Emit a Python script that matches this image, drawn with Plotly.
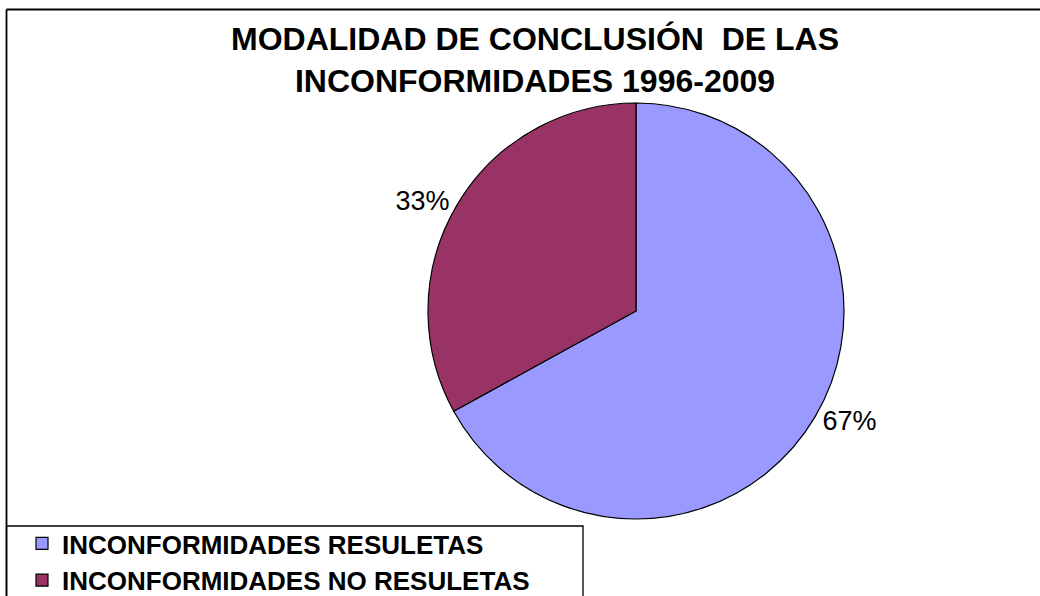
import plotly.graph_objects as go

# Data
labels = ["INCONFORMIDADES RESULETAS", "INCONFORMIDADES NO RESULETAS"]
values = [67, 33]
colors = ["#9999FF", "#993366"]
title_lines = ["MODALIDAD DE CONCLUSIÓN  DE LAS", "INCONFORMIDADES 1996-2009"]

W, H = 1040, 596
FONT = "Arial, Liberation Sans, sans-serif"

def px_x(p):
    return p / W

def px_y(p):
    return 1 - p / H

cx, cy, d = 636, 311, 416

fig = go.Figure(
    go.Pie(
        labels=labels,
        values=values,
        marker=dict(colors=colors, line=dict(color="black", width=1.2)),
        sort=False,
        direction="clockwise",
        rotation=0,
        textinfo="percent",
        textposition="outside",
        outsidetextfont=dict(family=FONT, size=27, color="black"),
        domain=dict(x=[px_x(cx - 330), px_x(cx + 330)], y=[px_y(cy + d / 2), px_y(cy - d / 2)]),
        hoverinfo="label+percent",
    )
)

fig.update_layout(
    width=W,
    height=H,
    margin=dict(l=0, r=0, t=0, b=0, autoexpand=False),
    paper_bgcolor="white",
    plot_bgcolor="white",
    annotations=[
        dict(
            text="<br>".join(title_lines),
            font=dict(family=FONT, size=32, color="black", weight="bold"),
            x=px_x(535),
            xanchor="center",
            xref="paper",
            y=px_y(60),
            yref="paper",
            yanchor="middle",
            showarrow=False,
            align="center",
        )
    ],
    legend=dict(
        x=px_x(22),
        y=px_y(520),
        xanchor="left",
        yanchor="top",
        font=dict(family=FONT, size=26, color="black", weight="bold"),
        bgcolor="rgba(0,0,0,0)",
        borderwidth=0,
    ),
    shapes=[
        dict(type="line", xref="paper", yref="paper", x0=px_x(6.5), x1=px_x(6.5), y0=-0.05, y1=px_y(9.5),
             line=dict(color="black", width=1.8)),
        dict(type="line", xref="paper", yref="paper", x0=px_x(6.5), x1=1.05, y0=px_y(9.5), y1=px_y(9.5),
             line=dict(color="black", width=1.8)),
        dict(type="rect", xref="paper", yref="paper", x0=px_x(6.5), x1=px_x(583), y0=-0.05, y1=px_y(526),
             line=dict(color="black", width=1.3), fillcolor="rgba(0,0,0,0)"),
    ],
)

fig.write_html(
    "out.html",
    config={"displayModeBar": False},
    post_script="document.body.style.margin='0';",
)
